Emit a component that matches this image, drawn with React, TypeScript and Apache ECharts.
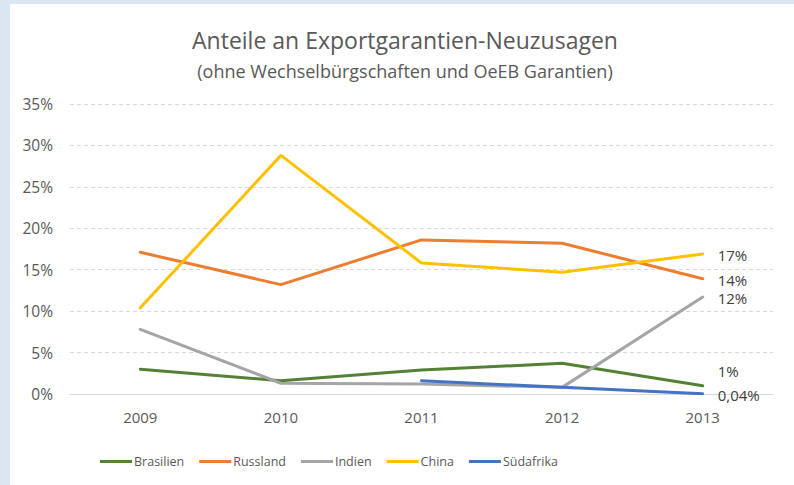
import React, { useEffect, useRef } from "react";
import * as echarts from "echarts";

const years = ["2009", "2010", "2011", "2012", "2013"];
const brasilien = [3.0, 1.6, 2.9, 3.7, 1.0];
const russland = [17.1, 13.2, 18.6, 18.2, 13.9];
const indien = [7.8, 1.3, 1.2, 0.8, 11.7];
const china = [10.4, 28.8, 15.8, 14.7, 16.9];
const suedafrika = [null, null, 1.6, 0.8, 0.04];
const endLabels = ["1%", "14%", "12%", "17%", "0,04%"];
const endOffsets = [[0, -15], [0, 1], [0, 1], [0, 1], [0, 1]];

const names = ["Brasilien", "Russland", "Indien", "China", "Südafrika"];
const colors = ["#548235", "#ED7D31", "#A5A5A5", "#FFC000", "#4472C4"];
const seriesData = [brasilien, russland, indien, china, suedafrika];

const FONT = "Open Sans";

export default function App() {
  const ref = useRef<HTMLDivElement>(null);
  useEffect(() => {
    document.body.style.margin = "0";
    const chart = echarts.init(ref.current!, null, { renderer: "svg" });
    chart.setOption({
      animation: false,
      backgroundColor: "#dce6f2",
      graphic: [
        {
          type: "rect",
          shape: { x: 10, y: 4, width: 784, height: 481 },
          style: { fill: "#ffffff" },
          z: -10,
        },
      ],
      title: {
        text: "Anteile an Exportgarantien-Neuzusagen",
        subtext: "(ohne Wechselbürgschaften und OeEB Garantien)",
        left: 400,
        textAlign: "center",
        top: 22,
        itemGap: 8,
        textStyle: { fontFamily: FONT, fontSize: 23, fontWeight: "normal", color: "#595959", lineHeight: 26 },
        subtextStyle: { fontFamily: FONT, fontSize: 18, color: "#595959", lineHeight: 20 },
      },
      grid: { left: 70, right: 21, top: 104, bottom: 91, containLabel: false },
      legend: {
        data: names,
        top: 450,
        left: 95,
        icon: "rect",
        itemWidth: 32,
        itemHeight: 3,
        itemGap: 15,
        textStyle: { fontFamily: FONT, fontSize: 12.5, color: "#595959", padding: [0, 0, 0, -3] },
      },
      xAxis: {
        type: "category",
        data: years,
        boundaryGap: true,
        axisLine: { lineStyle: { color: "#d9d9d9", width: 1 } },
        axisTick: { show: false },
        axisLabel: { fontFamily: FONT, fontSize: 15, color: "#595959", margin: 15 },
      },
      yAxis: {
        type: "value",
        min: 0,
        max: 35,
        interval: 5,
        axisLine: { show: false },
        axisTick: { show: false },
        axisLabel: { formatter: "{value}%", fontFamily: FONT, fontSize: 15.5, color: "#595959", margin: 17 },
        splitLine: { lineStyle: { color: "#d9d9d9", type: [4, 3] } },
      },
      series: names.map((name, i) => ({
        name,
        type: "line",
        data: seriesData[i].map((v, j) =>
          j === years.length - 1
            ? {
                value: v,
                label: {
                  show: true,
                  position: "right",
                  distance: 15,
                  offset: endOffsets[i],
                  formatter: endLabels[i],
                  fontFamily: FONT,
                  fontSize: 15,
                  lineHeight: 16,
                  color: "#404040",
                },
              }
            : v
        ),
        showSymbol: true,
        symbol: "circle",
        symbolSize: 0,
        lineStyle: { color: colors[i], width: 3, cap: "round" },
        itemStyle: { color: colors[i] },
        connectNulls: false,
      })),
    });
    return () => chart.dispose();
  }, []);
  return <div ref={ref} style={{ width: 794, height: 485 }} />;
}
